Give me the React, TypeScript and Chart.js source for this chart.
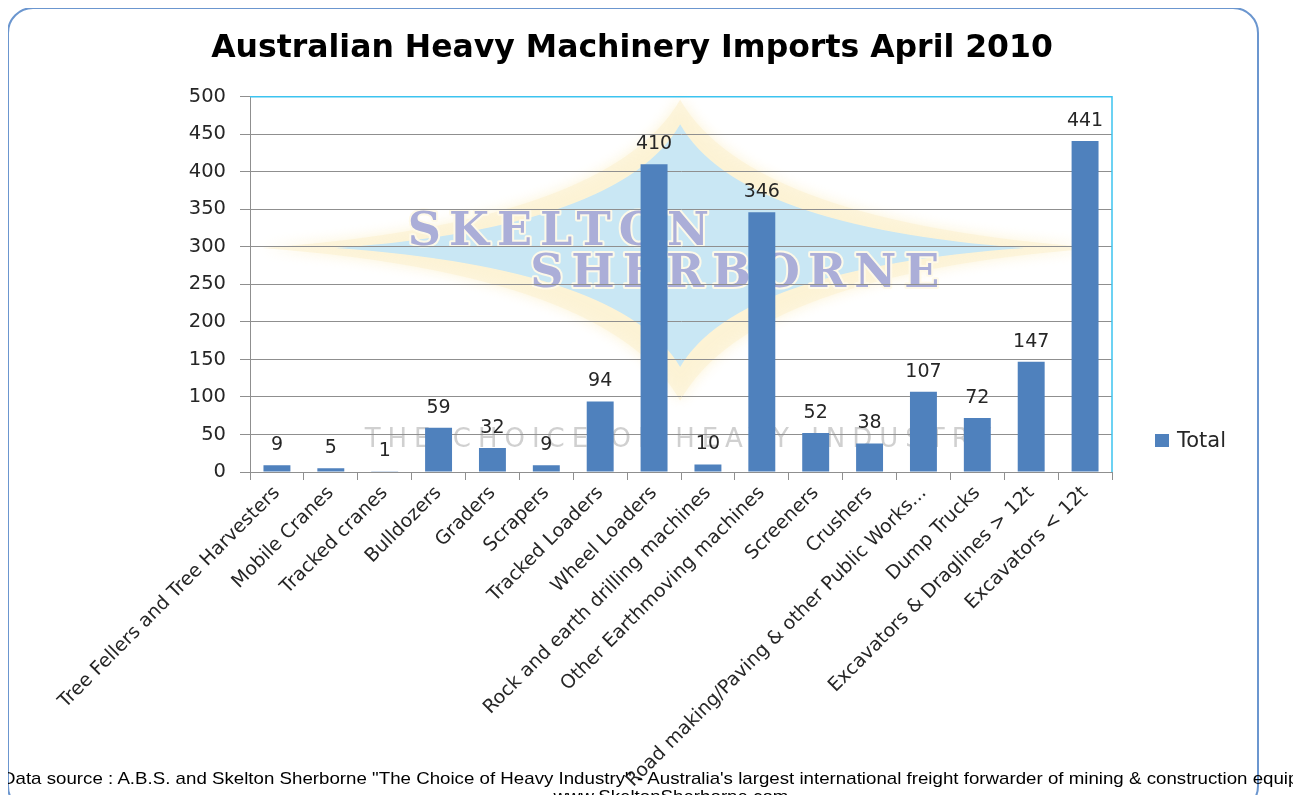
import React, { useEffect, useRef } from "react";
import { Chart, registerables } from "chart.js";

Chart.register(...registerables);

const categories = [
  "Tree Fellers and Tree Harvesters",
  "Mobile Cranes",
  "Tracked cranes",
  "Bulldozers",
  "Graders",
  "Scrapers",
  "Tracked Loaders",
  "Wheel Loaders",
  "Rock and earth drilling machines",
  "Other Earthmoving machines",
  "Screeners",
  "Crushers",
  "Road making/Paving & other Public Works...",
  "Dump Trucks",
  "Excavators & Draglines > 12t",
  "Excavators < 12t",
];
const totals = [9, 5, 1, 59, 32, 9, 94, 410, 10, 346, 52, 38, 107, 72, 147, 441];
const seriesLabel = "Total";
const titleText = "Australian Heavy Machinery Imports April 2010";
const yMin = 0;
const yMax = 500;
const yStep = 50;
const footerLine1 =
  'Data source : A.B.S. and Skelton Sherborne "The Choice of Heavy Industry" - Australia\'s largest international freight forwarder of mining & construction equipment';
const footerLine2 = "www.SkeltonSherborne.com";

const FONT = "'DejaVu Sans', sans-serif";
const BAR_COLOR = "#4f81bd";
const GRID = "#8f8f8f";
const TEXT = "#262626";

const watermarkPlugin = {
  id: "watermark",
  beforeDraw(chart: any) {
    const { ctx, chartArea } = chart;
    if (!chartArea) return;
    const { left, top, width, height } = chartArea;
    const cx = left + width * 0.499;
    const cy = top + height * 0.403;
    const star = (rx: number, ryT: number, ryB: number, k: number) => {
      ctx.beginPath();
      ctx.moveTo(cx, cy - ryT);
      ctx.quadraticCurveTo(cx + rx * k, cy - ryT * k, cx + rx, cy);
      ctx.quadraticCurveTo(cx + rx * k, cy + ryB * k, cx, cy + ryB);
      ctx.quadraticCurveTo(cx - rx * k, cy + ryB * k, cx - rx, cy);
      ctx.quadraticCurveTo(cx - rx * k, cy - ryT * k, cx, cy - ryT);
      ctx.closePath();
    };
    ctx.save();
    ctx.shadowColor = "rgba(250,232,175,0.7)";
    ctx.shadowBlur = 14;
    star(width * 0.485, height * 0.395, height * 0.81 - height * 0.403, 0.17);
    ctx.fillStyle = "rgba(252,242,212,0.7)";
    ctx.fill();
    ctx.shadowBlur = 0;
    star(width * 0.40, height * 0.33, height * 0.72 - height * 0.403, 0.17);
    ctx.fillStyle = "#c9e7f4";
    ctx.fill();

    ctx.font = `bold 46px 'DejaVu Serif', serif`;
    (ctx as any).letterSpacing = "8px";
    ctx.textAlign = "left";
    ctx.textBaseline = "alphabetic";
    ctx.lineJoin = "round";
    const drawWord = (t: string, fx: number, fy: number) => {
      const x = left + width * fx;
      const y = top + height * fy;
      ctx.lineWidth = 4;
      ctx.strokeStyle = "rgba(255,250,232,0.95)";
      ctx.strokeText(t, x, y);
      ctx.fillStyle = "#abaed8";
      ctx.fillText(t, x, y);
    };
    drawWord("SKELTON", 0.183, 0.395);
    drawWord("SHERBORNE", 0.325, 0.507);

    ctx.font = `26px ${FONT}`;
    (ctx as any).letterSpacing = "7px";
    ctx.fillStyle = "rgba(150,150,150,0.45)";
    ctx.fillText("THE CHOICE OF HEAVY INDUSTRY", left + width * 0.133, top + height * 0.933);
    ctx.restore();
  },
};

const borderPlugin = {
  id: "areaBorder",
  beforeDatasetsDraw(chart: any) {
    const { ctx, chartArea } = chart;
    ctx.save();
    ctx.strokeStyle = "#3cc3f0";
    ctx.lineWidth = 1.5;
    ctx.beginPath();
    ctx.moveTo(chartArea.left, chartArea.top);
    ctx.lineTo(chartArea.right, chartArea.top);
    ctx.lineTo(chartArea.right, chartArea.bottom);
    ctx.stroke();
    ctx.restore();
  },
};

const valueLabelPlugin = {
  id: "valueLabels",
  afterDatasetsDraw(chart: any) {
    const { ctx } = chart;
    const meta = chart.getDatasetMeta(0);
    const data = chart.data.datasets[0].data as number[];
    ctx.save();
    ctx.font = `19px ${FONT}`;
    ctx.fillStyle = TEXT;
    ctx.textAlign = "center";
    ctx.textBaseline = "alphabetic";
    meta.data.forEach((bar: any, i: number) => {
      ctx.fillText(String(data[i]), bar.x, bar.y - 15);
    });
    ctx.restore();
  },
};

const legendPlugin = {
  id: "sideLegend",
  afterDraw(chart: any) {
    const { ctx, chartArea } = chart;
    const ds = chart.data.datasets[0];
    ctx.save();
    ctx.fillStyle = ds.backgroundColor;
    ctx.fillRect(chartArea.right + 43, chartArea.bottom - 38, 14, 13);
    ctx.font = `21px ${FONT}`;
    ctx.fillStyle = TEXT;
    ctx.textAlign = "left";
    ctx.textBaseline = "alphabetic";
    ctx.fillText(ds.label, chartArea.right + 65, chartArea.bottom - 25);
    ctx.restore();
  },
};

export default function App() {
  const canvasRef = useRef<HTMLCanvasElement | null>(null);

  useEffect(() => {
    if (!canvasRef.current) return;
    const chart = new Chart(canvasRef.current, {
      type: "bar",
      data: {
        labels: categories,
        datasets: [
          {
            label: seriesLabel,
            data: totals,
            backgroundColor: BAR_COLOR,
            barPercentage: 0.5,
            categoryPercentage: 1.0,
          },
        ],
      },
      options: {
        animation: false,
        responsive: false,
        layout: { padding: { left: 152, right: 189, top: 20, bottom: 0 } },
        plugins: {
          legend: { display: false },
          tooltip: { enabled: false },
          title: {
            display: true,
            text: titleText,
            color: "#000",
            font: { family: FONT, size: 31.5, weight: "bold" },
            padding: { top: 10, bottom: 29 },
          },
        },
        scales: {
          x: {
            grid: { drawOnChartArea: false, tickLength: 8, color: GRID, offset: true },
            border: { color: GRID },
            ticks: {
              autoSkip: false,
              minRotation: 45,
              maxRotation: 45,
              color: TEXT,
              font: { family: FONT, size: 19 },
              padding: 2,
            },
            afterFit: (s: any) => {
              s.height = 331;
            },
          },
          y: {
            min: yMin,
            max: yMax,
            ticks: {
              stepSize: yStep,
              padding: 14,
              color: TEXT,
              font: { family: FONT, size: 19.5 },
            },
            grid: { color: GRID, tickLength: 10 },
            border: { color: GRID },
            afterFit: (s: any) => {
              s.width = 98;
            },
          },
        },
      },
      plugins: [watermarkPlugin, borderPlugin, valueLabelPlugin, legendPlugin],
    });
    return () => chart.destroy();
  }, []);

  return (
    <div
      style={{
        position: "relative",
        width: 1301,
        height: 803,
        margin: -8,
        overflow: "hidden",
        background: "#fff",
      }}
    >
      <div
        style={{
          position: "absolute",
          left: 7,
          top: 7,
          width: 1252,
          height: 805,
          border: "2px solid #6b96cf",
          borderRadius: 26,
          boxSizing: "border-box",
        }}
      />
      <canvas
        ref={canvasRef}
        width={1301}
        height={803}
        style={{ position: "absolute", left: 0, top: 0, width: 1301, height: 803 }}
      />
      <div
        style={{
          position: "absolute",
          left: 671,
          top: 770,
          transform: "translateX(-50%) scaleX(1.1)",
          whiteSpace: "nowrap",
          textAlign: "center",
          fontFamily: "'Liberation Sans', Arial, sans-serif",
          fontSize: 17,
          lineHeight: "18px",
          color: "#000",
        }}
      >
        <div>{footerLine1}</div>
        <div>{footerLine2}</div>
      </div>
    </div>
  );
}
